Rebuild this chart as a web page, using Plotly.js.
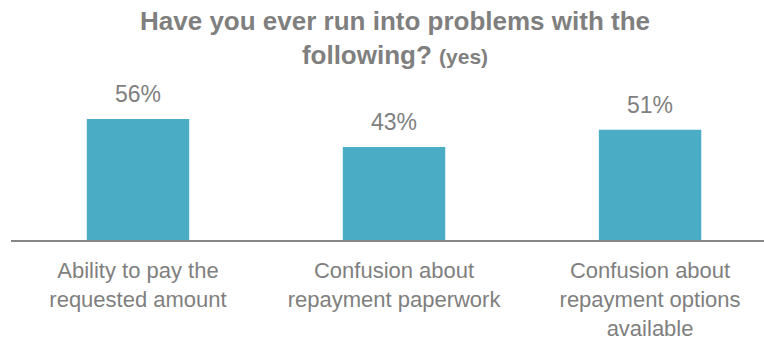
<!DOCTYPE html>
<html>
<head>
<meta charset="utf-8">
<script src="https://cdn.plot.ly/plotly-3.0.1.min.js"></script>
<style>html,body{margin:0;padding:0;background:#fff;}#chart{width:764px;height:347px;}</style>
</head>
<body>
<div id="chart"></div>
<script>
const categories = ["Ability to pay the<br>requested amount", "Confusion about<br>repayment paperwork", "Confusion about<br>repayment options<br>available"];
const values = [56, 43, 51];
const valueLabels = ["56%", "43%", "51%"];
const titleText = '<b>Have you ever run into problems with the<br>following? <span style="font-size:21px">(yes)</span></b>';

const FONT = '"Liberation Sans", Arial, sans-serif';
const GRAY = '#7f7f7f';

const trace = {
  type: 'bar',
  x: [0, 1, 2],
  y: values,
  width: 0.4,
  marker: {color: '#4bacc6'},
  hoverinfo: 'skip'
};

const annotations = values.map((v, i) => ({
  x: i, y: v, xref: 'x', yref: 'y',
  text: valueLabels[i],
  showarrow: false,
  yanchor: 'bottom',
  yshift: 10,
  font: {family: FONT, size: 23, color: GRAY}
}));

annotations.push({
  xref: 'paper', yref: 'paper',
  x: (394.5 - 11) / 753, y: (240 - 4) / 160,
  xanchor: 'center', yanchor: 'top',
  text: titleText,
  showarrow: false,
  align: 'center',
  font: {family: FONT, size: 26, color: GRAY}
});

const layout = {
  width: 764, height: 347,
  margin: {l: 11, r: 0, t: 80, b: 107, pad: 0},
  paper_bgcolor: '#fff', plot_bgcolor: '#fff',
  showlegend: false,
  xaxis: {
    range: [-0.496, 2.445],
    tickvals: [0, 1, 2],
    ticktext: categories,
    showline: true, linecolor: '#868686', linewidth: 2,
    showgrid: false, zeroline: false, ticks: '',
    ticklabelstandoff: 10,
    tickfont: {family: FONT, size: 22, color: GRAY},
    fixedrange: true
  },
  yaxis: {
    range: [0, 74.07],
    visible: false,
    showgrid: false, zeroline: false,
    fixedrange: true
  },
  annotations: annotations
};

Plotly.newPlot('chart', [trace], layout, {displayModeBar: false, staticPlot: true});
</script>
</body>
</html>
